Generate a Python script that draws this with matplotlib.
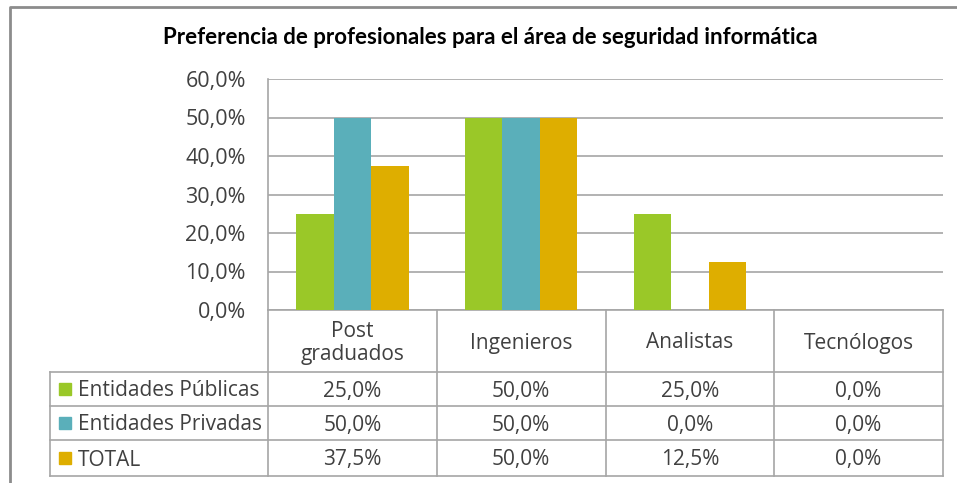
import matplotlib.pyplot as plt
import numpy as np

plt.rcParams['font.family'] = ['Open Sans', 'DejaVu Sans']

categorias = ["Post\ngraduados", "Ingenieros", "Analistas", "Tecnólogos"]
series = ["Entidades Públicas", "Entidades Privadas", "TOTAL"]
publicas = [25.0, 50.0, 25.0, 0.0]
privadas = [50.0, 50.0, 0.0, 0.0]
total = [37.5, 50.0, 12.5, 0.0]
colores = ["#9AC828", "#5AAFBA", "#DEAE00"]
yticks = [0, 10, 20, 30, 40, 50, 60]

W, H = 957, 483
fig = plt.figure(figsize=(W / 100, H / 100), dpi=100)

# pixel-space helper axes for frame and data table
bg = fig.add_axes([0, 0, 1, 1])
bg.set_xlim(0, W)
bg.set_ylim(H, 0)
bg.axis("off")

gris = "#A6A6A6"
texto = "#404040"
fs = 15

# chart border
bg.plot([10, 10, W + 5], [H + 5, 7, 7], color="#8C8C8C", lw=2)

bg.text(490, 38, "Preferencia de profesionales para el área de seguridad informática",
        ha="center", va="center", fontsize=16, fontweight="bold", color="black",
        family=["Lato", "DejaVu Sans"])

left, right, top, bottom = 268, 943, 79, 310
ax = fig.add_axes([left / W, 1 - bottom / H, (right - left) / W, (bottom - top) / H])
ax.set_zorder(2)
ax.patch.set_alpha(0)

x = np.arange(len(categorias))
ancho = 0.222
datos = [publicas, privadas, total]
for i, (vals, c) in enumerate(zip(datos, colores)):
    ax.bar(x + (i - 1) * ancho, vals, ancho, color=c, zorder=3)

ax.set_xlim(-0.5, len(categorias) - 0.5)
ax.set_ylim(0, 60)
ax.set_yticks(yticks)
ax.set_yticklabels([f"{v:.1f}%".replace(".", ",") for v in yticks],
                   fontsize=15.5, color=texto)
ax.set_xticks([])
ax.tick_params(axis="y", length=0, pad=16)
ax.grid(axis="y", color=gris, lw=1.2, zorder=0)
for s in ["top", "right", "bottom"]:
    ax.spines[s].set_visible(False)
ax.spines["left"].set_color(gris)
ax.spines["left"].set_linewidth(1.2)

# data table
colw = (right - left) / len(categorias)
bordes = [left + k * colw for k in range(len(categorias) + 1)]
fila_top = [bottom, 372, 406, 440, 476]
tab_left = 50

bg.plot([left, right], [bottom, bottom], color=gris, lw=1.2)
for y in fila_top[1:]:
    bg.plot([tab_left, right], [y, y], color=gris, lw=1.2)
for xb in bordes:
    bg.plot([xb, xb], [bottom, fila_top[-1]], color=gris, lw=1.2)
bg.plot([tab_left, tab_left], [fila_top[1], fila_top[-1]], color=gris, lw=1.2)

for k, cat in enumerate(categorias):
    bg.text((bordes[k] + bordes[k + 1]) / 2, (fila_top[0] + fila_top[1]) / 2 + 2, cat,
            ha="center", va="center", fontsize=fs, color=texto, linespacing=1.15)

for r, (nombre, vals, c) in enumerate(zip(series, datos, colores)):
    yc = (fila_top[r + 1] + fila_top[r + 2]) / 2
    bg.add_patch(plt.Rectangle((59, yc - 6), 12, 12, color=c))
    bg.text(78, yc + 2, nombre, ha="left", va="center", fontsize=fs, color=texto)
    for k, v in enumerate(vals):
        bg.text((bordes[k] + bordes[k + 1]) / 2, yc + 2, f"{v:.1f}%".replace(".", ","),
                ha="center", va="center", fontsize=fs, color=texto)

fig.savefig("out.png", dpi=100)
